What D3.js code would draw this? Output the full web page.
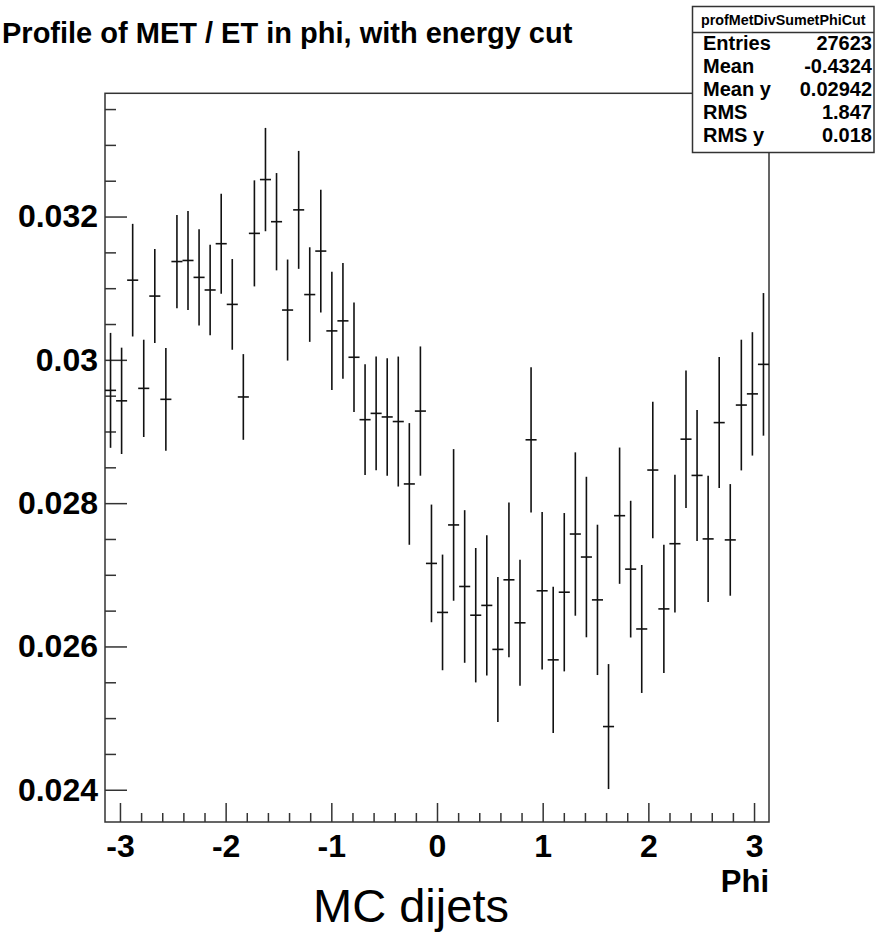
<!DOCTYPE html>
<html>
<head>
<meta charset="utf-8">
<script src="https://cdn.jsdelivr.net/npm/d3@7"></script>
<style>
  body { margin: 0; background: #fff; }
  svg { display: block; font-family: "Liberation Sans", Arial, sans-serif; }
</style>
</head>
<body>
<svg id="chart" width="876" height="938"></svg>
<script>
// profile values, one per phi bin (60 bins from -pi to pi)
const binMeans = [
  0.029574, 0.029428, 0.031112, 0.029602, 0.030890, 0.029449, 0.031372, 0.031387, 0.031151, 0.030975,
  0.031621, 0.030774, 0.029482, 0.031765, 0.032516, 0.031928, 0.030695, 0.032093, 0.030911, 0.031518,
  0.030404, 0.030544, 0.030036, 0.029165, 0.029253, 0.029203, 0.029139, 0.028268, 0.029285, 0.027159,
  0.026475, 0.027696, 0.026837, 0.026436, 0.026573, 0.025959, 0.026930, 0.026330, 0.028884, 0.026777,
  0.025813, 0.026757, 0.027569, 0.027248, 0.026650, 0.024882, 0.027825, 0.027079, 0.026244, 0.028462,
  0.026524, 0.027434, 0.028893, 0.028387, 0.027501, 0.029124, 0.027487, 0.029369, 0.029525, 0.029937
];
const binErrors = [
  0.000802, 0.000742, 0.000786, 0.000679, 0.000656, 0.000716, 0.000651, 0.000691, 0.000672, 0.000630,
  0.000698, 0.000633, 0.000598, 0.000740, 0.000721, 0.000679, 0.000705, 0.000823, 0.000660, 0.000856,
  0.000825, 0.000807, 0.000765, 0.000772, 0.000795, 0.000821, 0.000907, 0.000849, 0.000902, 0.000821,
  0.000807, 0.001058, 0.001065, 0.000938, 0.000979, 0.001012, 0.001079, 0.000879, 0.001014, 0.001100,
  0.001021, 0.001105, 0.001140, 0.001120, 0.001049, 0.000872, 0.000951, 0.000954, 0.000893, 0.000953,
  0.000895, 0.000961, 0.000960, 0.000914, 0.000881, 0.000914, 0.000779, 0.000912, 0.000861, 0.000995
];

const xTicks = [-3, -2, -1, 0, 1, 2, 3];
const xTickLabels = ["-3", "-2", "-1", "0", "1", "2", "3"];
const yTicks = [0.024, 0.026, 0.028, 0.030, 0.032];
const yTickLabels = ["0.024", "0.026", "0.028", "0.03", "0.032"];

const statNames = ["Entries", "Mean", "Mean y", "RMS", "RMS y"];
const statValues = ["27623", "-0.4324", "0.02942", "1.847", "0.018"];

const svg = d3.select("#chart");

// frame position
const frame = {left: 105, right: 769, top: 93.3, bottom: 822};

const x = d3.scaleLinear().domain([-Math.PI, Math.PI]).range([frame.left, frame.right]);
const y = d3.scaleLinear().domain([0.02355, 0.03372]).range([frame.bottom, frame.top]);

const nBins = binMeans.length;
const binW = 2 * Math.PI / nBins;
const bins = binMeans.map((m, i) => ({
  lo: -Math.PI + i * binW,
  hi: -Math.PI + (i + 1) * binW,
  c: -Math.PI + (i + 0.5) * binW,
  m: m,
  e: binErrors[i]
}));

// frame
svg.append("rect")
  .attr("x", frame.left).attr("y", frame.top)
  .attr("width", frame.right - frame.left).attr("height", frame.bottom - frame.top)
  .attr("fill", "none").attr("stroke", "#333").attr("stroke-width", 1.5);

// y axis, major + minor ticks pointing inside
const yMinor = d3.range(0.024, 0.03351, 0.0005).filter(v => !yTicks.some(t => Math.abs(t - v) < 1e-9));
svg.append("g")
  .attr("transform", `translate(${frame.left},0)`)
  .call(d3.axisLeft(y).tickValues(yMinor).tickSizeInner(-11).tickSizeOuter(0).tickFormat(""))
  .call(g => g.select(".domain").remove());

svg.append("g")
  .attr("transform", `translate(${frame.left},0)`)
  .call(d3.axisLeft(y).tickValues(yTicks).tickSizeInner(-22).tickSizeOuter(0).tickPadding(7)
    .tickFormat((d, i) => yTickLabels[i]))
  .call(g => g.select(".domain").remove())
  .call(g => g.selectAll("text").attr("font-size", 32).attr("font-weight", "bold")
    .attr("font-family", "Liberation Sans, Arial, sans-serif").attr("fill", "#000"));

// x axis
const xMinor = d3.range(-3, 3.01, 0.2).filter(v => Math.abs(v - Math.round(v)) > 1e-6);
svg.append("g")
  .attr("transform", `translate(0,${frame.bottom})`)
  .call(d3.axisBottom(x).tickValues(xMinor).tickSizeInner(-9).tickSizeOuter(0).tickFormat(""))
  .call(g => g.select(".domain").remove());

svg.append("g")
  .attr("transform", `translate(0,${frame.bottom})`)
  .call(d3.axisBottom(x).tickValues(xTicks).tickSizeInner(-19).tickSizeOuter(0).tickPadding(12)
    .tickFormat((d, i) => xTickLabels[i]))
  .call(g => g.select(".domain").remove())
  .call(g => g.selectAll("text").attr("font-size", 32).attr("font-weight", "bold")
    .attr("font-family", "Liberation Sans, Arial, sans-serif").attr("fill", "#000"));

svg.selectAll(".tick line").attr("stroke", "#333").attr("stroke-width", 1.5);

// profile points: horizontal bin bar + vertical error bar
const pts = svg.append("g").attr("stroke", "#111").attr("stroke-width", 1.6);
pts.selectAll(".hbar").data(bins).join("line")
  .attr("x1", d => x(d.lo)).attr("x2", d => x(d.hi))
  .attr("y1", d => y(d.m)).attr("y2", d => y(d.m));
pts.selectAll(".vbar").data(bins).join("line")
  .attr("x1", d => x(d.c)).attr("x2", d => x(d.c))
  .attr("y1", d => y(d.m - d.e)).attr("y2", d => y(d.m + d.e));

// title
svg.append("text")
  .attr("x", 2).attr("y", 43)
  .attr("font-size", 29).attr("font-weight", "bold")
  .text("Profile of MET / ET in phi, with energy cut");

// stats box
const sb = {x: 692.5, y: 6.5, w: 181.5, h: 146};
svg.append("rect")
  .attr("x", sb.x).attr("y", sb.y).attr("width", sb.w).attr("height", sb.h)
  .attr("fill", "#fff").attr("stroke", "#333").attr("stroke-width", 1.5);
svg.append("line")
  .attr("x1", sb.x).attr("x2", sb.x + sb.w).attr("y1", 32.5).attr("y2", 32.5)
  .attr("stroke", "#333").attr("stroke-width", 1.5);
svg.append("text")
  .attr("x", sb.x + sb.w / 2).attr("y", 25).attr("text-anchor", "middle")
  .attr("font-size", 14.3).attr("font-weight", "bold")
  .text("profMetDivSumetPhiCut");

const rows = svg.append("g").attr("font-size", 20).attr("font-weight", "bold");
rows.selectAll(".sname").data(statNames).join("text")
  .attr("x", 703).attr("y", (d, i) => 49.5 + i * 23.1)
  .text(d => d);
rows.selectAll(".sval").data(statValues).join("text")
  .attr("x", 872).attr("y", (d, i) => 49.5 + i * 23.1)
  .attr("text-anchor", "end")
  .text(d => d);

// axis title
svg.append("text")
  .attr("x", frame.right).attr("y", 892).attr("text-anchor", "end")
  .attr("font-size", 31).attr("font-weight", "bold")
  .text("Phi");

// bottom caption
svg.append("text")
  .attr("x", 411).attr("y", 922).attr("text-anchor", "middle")
  .attr("font-size", 47)
  .text("MC dijets");
</script>
</body>
</html>
